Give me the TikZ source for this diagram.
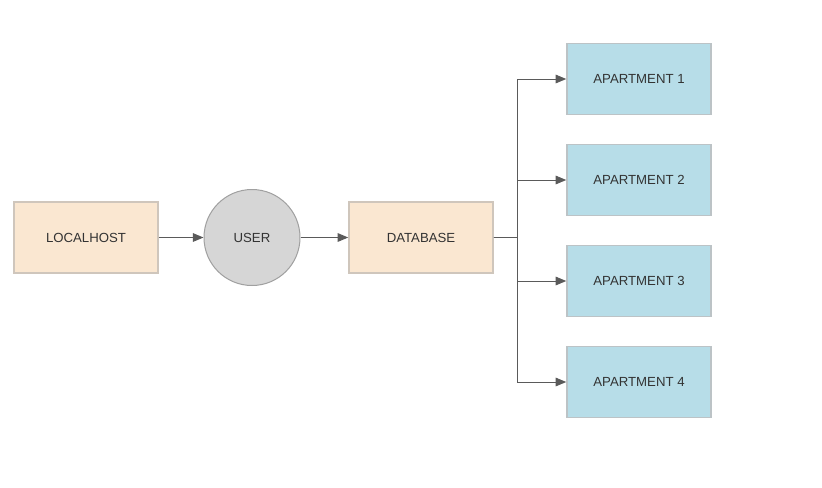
\documentclass[tikz,border=0pt]{standalone}
\usepackage{fontspec}
\setmainfont{Liberation Sans}
\usetikzlibrary{arrows.meta}
\definecolor{beige}{HTML}{FAE7D1}
\definecolor{beigeb}{HTML}{CFC6BC}
\definecolor{aptfill}{HTML}{B7DDE8}
\definecolor{aptb}{HTML}{BCC3C6}
\definecolor{userfill}{HTML}{D6D6D6}
\definecolor{userb}{HTML}{A0A0A0}
\definecolor{txt}{HTML}{333333}
\definecolor{edge}{HTML}{5A5A5A}
\begin{document}
\begin{tikzpicture}[x=0.75pt,y=-0.75pt,
  box/.style={draw=beigeb,fill=beige,line width=1.1pt,minimum width=108pt,minimum height=53.25pt,inner sep=0pt,text=txt,font=\fontsize{9.9}{12}\selectfont},
  apt/.style={box,draw=aptb,fill=aptfill},
  usr/.style={circle,draw=userb,fill=userfill,line width=0.75pt,minimum size=72pt,inner sep=0pt,text=txt,font=\fontsize{9.9}{12}\selectfont},
  conn/.style={draw=edge,line width=0.75pt,-{Triangle[length=8pt,width=6.5pt]}}]
\useasboundingbox (0,0) rectangle (822,487);
\node[box] (lh) at (86,237.5) {LOCALHOST};
\node[usr] (user) at (252,237.5) {USER};
\node[box] (db) at (421,237.5) {DATABASE};
\node[apt] (a1) at (639,79) {APARTMENT 1};
\node[apt] (a2) at (639,180) {APARTMENT 2};
\node[apt] (a3) at (639,281) {APARTMENT 3};
\node[apt] (a4) at (639,382) {APARTMENT 4};
\draw[conn] (lh) -- (user);
\draw[conn] (user) -- (db);
\foreach \a in {a1,a2,a3,a4}
  \draw[conn] (db.east) -- ++(24,0) |- (\a.west);
\end{tikzpicture}
\end{document}
